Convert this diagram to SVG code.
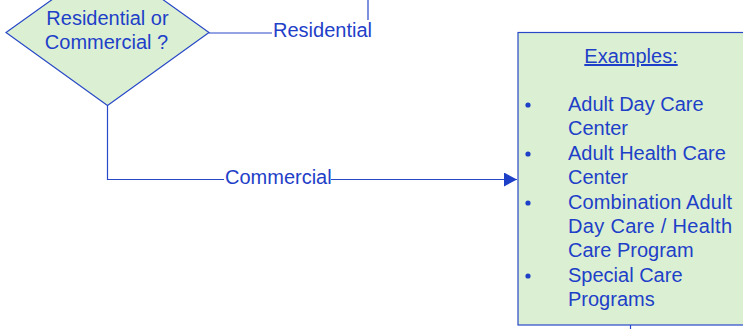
<svg xmlns="http://www.w3.org/2000/svg" width="743" height="329" viewBox="0 0 743 329">
<style>
  .t { font-family: "Liberation Sans", Arial, sans-serif; font-size: 20px; fill: #1e40c8; }
  .shape { fill: #dbf0d2; stroke: #2848c8; stroke-width: 1.2; }
  .conn { fill: none; stroke: #2848c8; stroke-width: 1.2; }
  .lblbg { fill: #ffffff; stroke: none; }
</style>
<defs>
  <marker id="arrow" markerWidth="13" markerHeight="14" refX="13" refY="7" orient="auto" markerUnits="userSpaceOnUse">
    <path d="M0,0 L13,7 L0,14 Z" fill="#1e40c8"/>
  </marker>
</defs>
<rect width="743" height="329" fill="#ffffff"/>
<g id="connectors">
  <path class="conn" d="M209,33 H368 V0"/>
  <rect class="lblbg" x="272" y="20" width="100" height="22"/>
  <text class="t" x="273" y="37">Residential</text>
  <path class="conn" d="M107.5,105.5 V179.5 H517" marker-end="url(#arrow)"/>
  <rect class="lblbg" x="224" y="166" width="107" height="22"/>
  <text class="t" x="225" y="184">Commercial</text>
  <path class="conn" d="M630.5,325 V329"/>
</g>
<g id="decision">
  <polygon class="shape" points="107.5,-40 209,32.5 107.5,105.5 6,32.5"/>
  <text class="t" x="107.5" y="25" text-anchor="middle">Residential or</text>
  <text class="t" x="106.5" y="49" text-anchor="middle">Commercial ?</text>
</g>
<g id="examples">
  <rect class="shape" x="518" y="32.5" width="230" height="292.5"/>
  <text class="t" x="631" y="63" text-anchor="middle" text-decoration="underline">Examples:</text>
  <g fill="#1e40c8">
    <circle cx="528" cy="105" r="2.6"/>
    <circle cx="528" cy="154" r="2.6"/>
    <circle cx="528" cy="203" r="2.6"/>
    <circle cx="528" cy="276" r="2.6"/>
  </g>
  <text class="t" x="568" y="111">Adult Day Care</text>
  <text class="t" x="568" y="135">Center</text>
  <text class="t" x="568" y="160">Adult Health Care</text>
  <text class="t" x="568" y="184">Center</text>
  <text class="t" x="568" y="208.5" textLength="164" lengthAdjust="spacing">Combination Adult</text>
  <text class="t" x="568" y="233" textLength="164" lengthAdjust="spacing">Day Care / Health</text>
  <text class="t" x="568" y="257">Care Program</text>
  <text class="t" x="568" y="281.5">Special Care</text>
  <text class="t" x="568" y="306">Programs</text>
</g>
</svg>
